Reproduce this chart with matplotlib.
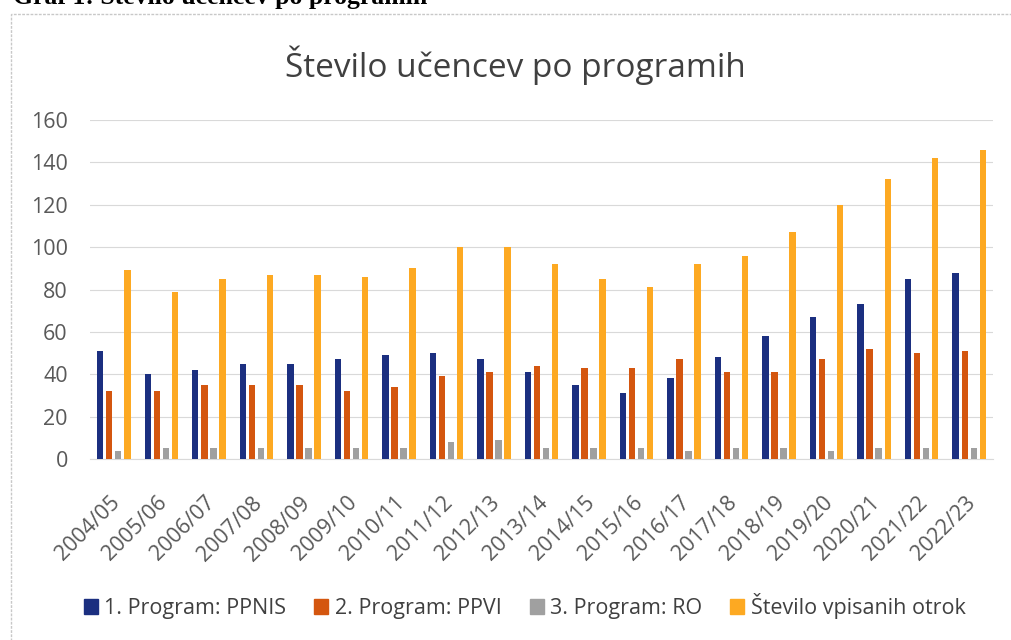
import numpy as np
import matplotlib.pyplot as plt
from matplotlib.patches import Rectangle, Patch

# Podatki (odčitani z grafa)
leta = ['2004/05', '2005/06', '2006/07', '2007/08', '2008/09', '2009/10', '2010/11',
        '2011/12', '2012/13', '2013/14', '2014/15', '2015/16', '2016/17', '2017/18',
        '2018/19', '2019/20', '2020/21', '2021/22', '2022/23']
ppnis = [51, 40, 42, 45, 45, 47, 49, 50, 47, 41, 35, 31, 38, 48, 58, 67, 73, 85, 88]
ppvi = [32, 32, 35, 35, 35, 32, 34, 39, 41, 44, 43, 43, 47, 41, 41, 47, 52, 50, 51]
ro = [4, 5, 5, 5, 5, 5, 5, 8, 9, 5, 5, 5, 4, 5, 5, 4, 5, 5, 5]
vpisani = [89, 79, 85, 87, 87, 86, 90, 100, 100, 92, 85, 81, 92, 96, 107, 120, 132, 142, 146]

serije = [ppnis, ppvi, ro, vpisani]
imena = ['1. Program: PPNIS', '2. Program: PPVI', '3. Program: RO', 'Število vpisanih otrok']
barve = ['#1b2f80', '#d4560f', '#a0a0a0', '#fda922']

plt.rcParams['font.family'] = ['Open Sans', 'DejaVu Sans']

fig = plt.figure(figsize=(10.11, 6.4), dpi=100)
ax = fig.add_axes([90 / 1011, 1 - 459 / 640, 903 / 1011, 339 / 640])

x = np.arange(len(leta))
korak = 0.19
for i, (vals, c) in enumerate(zip(serije, barve)):
    ax.bar(x + (i - 1.5) * korak, vals, width=0.135, color=c, zorder=3)

ax.set_xlim(-0.5, len(leta) - 0.5)
ax.set_ylim(0, 160)
ax.set_yticks(range(0, 161, 20))
ax.grid(axis='y', color='#d9d9d9', lw=0.8, zorder=0)
for s in ['top', 'right', 'left']:
    ax.spines[s].set_visible(False)
ax.spines['bottom'].set_color('#d9d9d9')
ax.tick_params(axis='both', length=0, labelsize=15.5, colors='#595959')
ax.tick_params(axis='y', pad=16)
ax.set_xticks(x - 0.1)
ax.set_xticklabels(leta, rotation=45, ha='right', rotation_mode='anchor')
ax.tick_params(axis='x', labelsize=15.5, pad=24)

fig.text(0.51, 1 - 65 / 640, 'Število učencev po programih', ha='center', va='center',
         fontsize=24, color='#404040')

# zgornji (odrezan) napis
fig.text(13 / 1011, 1 - 4 / 640, 'Graf 1: Število učencev po programih', ha='left',
         va='baseline', fontsize=18.5, fontweight='bold', family='Liberation Serif', color='black')

# okvir grafa
fig.patches.append(Rectangle((11 / 1011, -0.1), 1.1, 1 - 14 / 640 + 0.1, transform=fig.transFigure,
                             fill=False, ec='#c8c8c8', lw=1.0, ls=(0, (2, 1))))

rocaji = [Patch(color=c, label=n) for c, n in zip(barve, imena)]
fig.legend(handles=rocaji, loc='center', bbox_to_anchor=(0.519, 1 - 606 / 640), ncol=4,
           frameon=False, fontsize=15.5, handlelength=0.65, handleheight=0.65,
           handletextpad=0.3, columnspacing=1.3, labelcolor='#404040')

fig.savefig('out.png', dpi=100)
